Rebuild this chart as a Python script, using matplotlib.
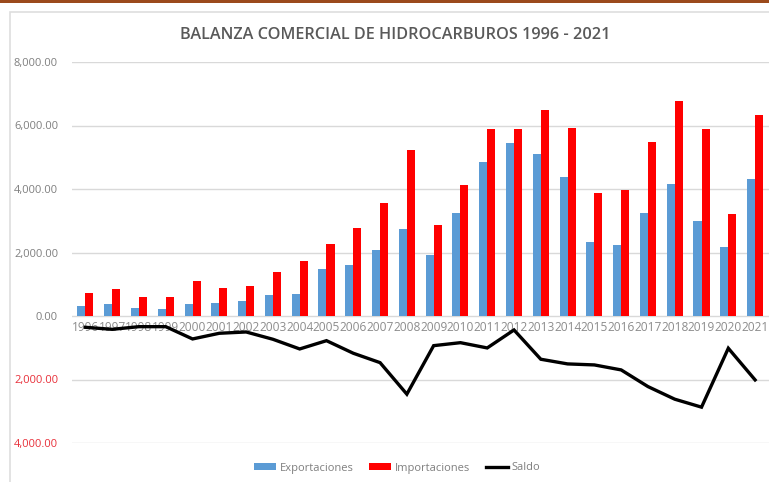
import matplotlib
matplotlib.use("Agg")
import matplotlib.pyplot as plt
from matplotlib.patches import Rectangle
from matplotlib.ticker import FuncFormatter, FixedLocator
from matplotlib.lines import Line2D
from matplotlib.patches import Patch
import numpy as np

years = [str(y) for y in range(1996, 2022)]
exportaciones = [324, 368, 261, 230, 368, 399, 472, 651, 680, 1487, 1595, 2089, 2744,
                 1930, 3259, 4854, 5434, 5108, 4389, 2323, 2237, 3241, 4146, 2997, 2174, 4316]
importaciones = [714, 840, 597, 597, 1100, 890, 953, 1384, 1720, 2278, 2785, 3566, 5234,
                 2880, 4127, 5877, 5899, 6500, 5918, 3861, 3978, 5475, 6785, 5899, 3228, 6329]
saldo = [-356, -420, -336, -336, -723, -544, -503, -733, -1038, -777, -1173, -1469, -2462,
         -934, -840, -1006, -440, -1362, -1509, -1541, -1698, -2223, -2620, -2871, -1016, -2013]
yticks = [-4000, -2000, 0, 2000, 4000, 6000, 8000]

plt.rcParams['font.family'] = ['Open Sans', 'DejaVu Sans']

W, H = 769, 482
fig = plt.figure(figsize=(W / 100, H / 100), dpi=100)
fig.patch.set_facecolor('white')

# top band and chart frame
fig.add_artist(Rectangle((0, 1 - 3 / H), 1, 3 / H, transform=fig.transFigure,
                         facecolor='#9B4A1C', edgecolor='none'))
fig.add_artist(Rectangle((10 / W, -0.05), 1.1, 1 - 12 / H + 0.05, transform=fig.transFigure,
                         facecolor='none', edgecolor='#DEDEDE', linewidth=1.2))

left = 72 / W
right = 768.5 / W
top = 1 - 62 / H
bottom = 1 - 443 / H
ax = fig.add_axes([left, bottom, right - left, top - bottom])

x = np.arange(len(years))
bw = 0.30
ax.bar(x - bw / 2, exportaciones, width=bw, color='#5B9BD5', zorder=3)
ax.bar(x + bw / 2, importaciones, width=bw, color='#FF0000', zorder=3)
ax.plot(x, saldo, color='black', linewidth=2.4, zorder=4, solid_joinstyle='miter')

ax.set_xlim(-0.5, len(years) - 0.5)
ax.set_ylim(-4000, 8000)
ax.yaxis.set_major_locator(FixedLocator(yticks))
ax.yaxis.set_major_formatter(FuncFormatter(lambda v, p: f"{abs(v):,.2f}"))
ax.grid(axis='y', color='#D9D9D9', linewidth=1.0, zorder=0)
ax.set_xticks([])
for s in ax.spines.values():
    s.set_visible(False)
ax.tick_params(axis='y', length=0, pad=10, labelsize=8, labelcolor='#7F7F7F')
for lbl, v in zip(ax.get_yticklabels(), yticks):
    if v < 0:
        lbl.set_color('#E8303A')

for xi, yr in zip(x, years):
    ax.text(xi, -160, yr, ha='center', va='top', fontsize=8.6, color='#8C8C8C',
            transform=ax.transData, zorder=2)

fig.text(0.514, 1 - 35 / H, 'BALANZA COMERCIAL DE HIDROCARBUROS 1996 - 2021',
         ha='center', va='center', fontsize=11.7, color='#595959', fontweight='semibold')

handles = [Patch(facecolor='#5B9BD5', edgecolor='none'),
           Patch(facecolor='#FF0000', edgecolor='none'),
           Line2D([0], [0], color='black', linewidth=2.4)]
fig.legend(handles, ['Exportaciones', 'Importaciones', 'Saldo'], loc='center',
           bbox_to_anchor=(397 / W, 1 - 468 / H), ncol=3, frameon=False,
           fontsize=8, labelcolor='#7F7F7F', handlelength=2.0, handleheight=0.6,
           handletextpad=0.3, columnspacing=1.4)

fig.savefig('out.png', dpi=100)
